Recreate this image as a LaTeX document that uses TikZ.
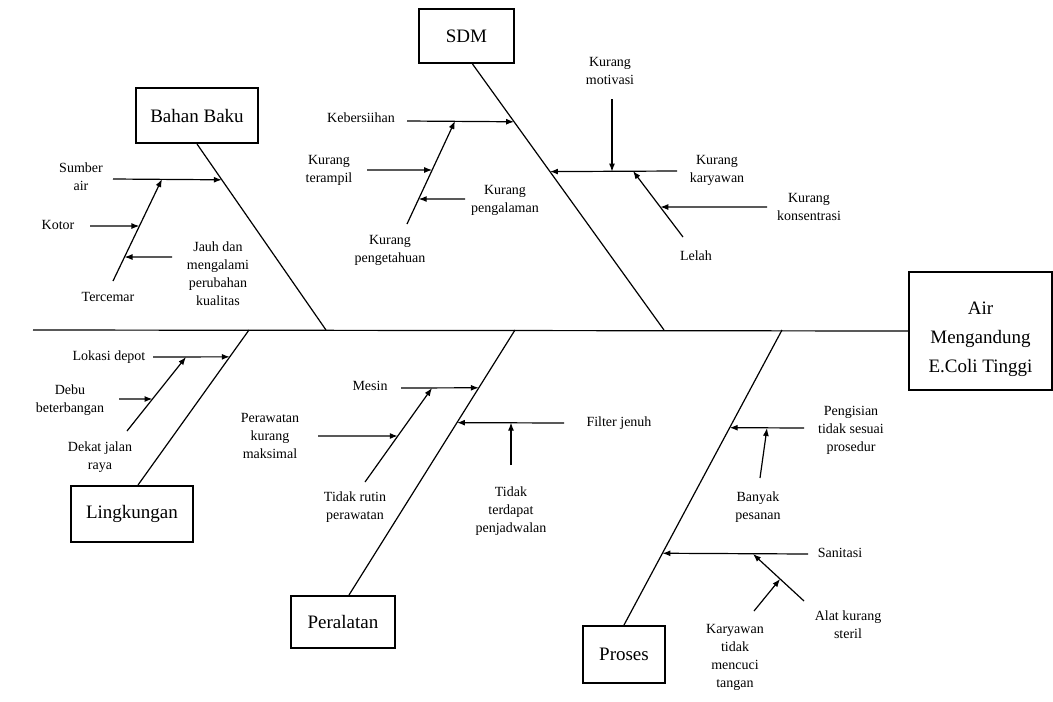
\documentclass[tikz,border=0pt]{standalone}
\usepackage{fontspec}
\setmainfont{Liberation Serif}
\usetikzlibrary{arrows.meta, calc}

\begin{document}
\begin{tikzpicture}[
    x=1pt, y=-1pt,
    every node/.style={font=\fontsize{14}{18}\selectfont},
    bonebox/.style={
        rectangle,
        draw,
        line width=2pt,
        inner sep=0pt,
        align=center,
        font=\fontsize{19}{29}\selectfont
    },
    cause/.style={align=center, inner sep=0pt},
    bone/.style={line width=1.2pt},
    arrow/.style={line width=1.2pt, -{Latex[length=8pt, width=6pt]}}
]
\useasboundingbox (0,0) rectangle (1053,702);

\node[bonebox, minimum width=143pt, minimum height=118pt] (head) at (980.5,331) {\raisebox{-11pt}[0pt][0pt]{\begin{tabular}{@{}c@{}}Air\\Mengandung\\E.Coli Tinggi\end{tabular}}};
\node[bonebox, minimum width=122pt, minimum height=55pt] (bahan) at (197,115.5) {Bahan Baku};
\node[bonebox, minimum width=95pt, minimum height=54pt] (sdm) at (466.5,36) {SDM};
\node[bonebox, minimum width=122pt, minimum height=56pt] (lingk) at (132,514) {Lingkungan};
\node[bonebox, minimum width=104pt, minimum height=52pt] (alat) at (343,622) {Peralatan};
\node[bonebox, minimum width=82pt, minimum height=57pt] (proses) at (624,654.5) {Proses};

\coordinate (tail) at (33,330);
\draw[bone] (tail) -- (head.west);

\coordinate (bahanS) at (326,330);
\coordinate (sdmS) at (664,330);
\coordinate (lingkS) at (249,330);
\coordinate (alatS) at (515,330);
\coordinate (prosesS) at (782,330);
\coordinate (bahanT) at (bahan.south);
\coordinate (sdmT) at ([xshift=6pt]sdm.south);
\coordinate (lingkT) at ([xshift=6pt]lingk.north);
\coordinate (alatT) at ([xshift=6pt]alat.north);
\coordinate (prosesT) at (proses.north);
\foreach \bn in {bahan, sdm, lingk, alat, proses}
    \draw[bone] (\bn T) -- (\bn S);

\node[cause] (sumber) at (81,177) {Sumber\\air};
\node[cause] (kotor) at (58,225) {Kotor};
\node[cause] (tercemar) at (108,297) {Tercemar};
\node[cause] (jauh) at (218,274) {Jauh dan\\mengalami\\perubahan\\kualitas};

\coordinate (bb1) at ($(bahanT)!0.1925!(bahanS)$);
\coordinate (bb1s) at (113,179);
\coordinate (bb2a) at (113,281);
\coordinate (bb2b) at (162,179);
\coordinate (bb3) at ($(bb2a)!0.539!(bb2b)$);
\coordinate (bb3s) at (90,226);
\coordinate (bb4) at ($(bb2a)!0.235!(bb2b)$);
\coordinate (bb4s) at (172,257);
\draw[arrow] (bb1s) -- (bb1);
\draw[arrow] (bb2a) -- (bb2b);
\draw[arrow] (bb3s) -- (bb3);
\draw[arrow] (bb4s) -- (bb4);

\node[cause] (bersih) at (361,118) {Kebersiihan};
\node[cause] (terampil) at (329,170) {Kurang\\terampil};
\node[cause] (pengalaman) at (505,200) {Kurang\\pengalaman};
\node[cause] (pengetahuan) at (390,250) {Kurang\\pengetahuan};
\node[cause] (motivasi) at (610,71) {Kurang\\motivasi};
\node[cause] (karyawan) at (717,170) {Kurang\\karyawan};
\node[cause] (konsentrasi) at (809,207) {Kurang\\konsentrasi};
\node[cause] (lelah) at (696,256) {Lelah};

\coordinate (sd1) at ($(sdmT)!0.2172!(sdmS)$);
\coordinate (sd1s) at (407,121);
\coordinate (sd2a) at (407,224);
\coordinate (sd2b) at (455,121);
\coordinate (sd3) at ($(sd2a)!0.5243!(sd2b)$);
\coordinate (sd3s) at (367,170);
\coordinate (sd4) at ($(sd2a)!0.2427!(sd2b)$);
\coordinate (sd4s) at (465,199);
\coordinate (sd5) at ($(sdmT)!0.4045!(sdmS)$);
\coordinate (sd5s) at (677,171);
\coordinate (sd6s) at (612,99);
\coordinate (sd7a) at (683,237);
\coordinate (sd7b) at (633,171);
\coordinate (sd8) at ($(sd7a)!0.4545!(sd7b)$);
\coordinate (sd8s) at (767,207);
\draw[arrow] (sd1s) -- (sd1);
\draw[arrow] (sd2a) -- (sd2b);
\draw[arrow] (sd3s) -- (sd3);
\draw[arrow] (sd4s) -- (sd4);
\draw[arrow] (sd5s) -- (sd5);
\draw[arrow] (sd6s) -- (sd6s |- sd5);
\draw[arrow] (sd7a) -- (sd7b);
\draw[arrow] (sd8s) -- (sd8);

\node[cause] (lokasi) at (109,357) {Lokasi depot};
\node[cause] (debu) at (70,400) {Debu\\beterbangan};
\node[cause] (jalan) at (100,457) {Dekat jalan\\raya};

\coordinate (lg1) at ($(lingkS)!0.1731!(lingkT)$);
\coordinate (lg1s) at (153,357);
\coordinate (lg2a) at (127,431);
\coordinate (lg2b) at (186,357);
\coordinate (lg3) at ($(lg2a)!0.4324!(lg2b)$);
\coordinate (lg3s) at (119,399);
\draw[arrow] (lg1s) -- (lg1);
\draw[arrow] (lg2a) -- (lg2b);
\draw[arrow] (lg3s) -- (lg3);

\node[cause] (mesin) at (370,386) {Mesin};
\node[cause] (rawat) at (270,436) {Perawatan\\kurang\\maksimal};
\node[cause] (rutin) at (355,507) {Tidak rutin\\perawatan};
\node[cause] (filter) at (619,423) {Filter jenuh};
\node[cause] (jadwal) at (511,511) {Tidak\\terdapat\\penjadwalan};

\coordinate (al1) at ($(alatS)!0.218!(alatT)$);
\coordinate (al1s) at (401,388);
\coordinate (al2a) at (365,482);
\coordinate (al2b) at (432,388);
\coordinate (al3) at ($(al2a)!0.4894!(al2b)$);
\coordinate (al3s) at (318,436);
\coordinate (al4) at ($(alatS)!0.3496!(alatT)$);
\coordinate (al4s) at (564,423);
\coordinate (al5s) at (511,465);
\draw[arrow] (al1s) -- (al1);
\draw[arrow] (al2a) -- (al2b);
\draw[arrow] (al3s) -- (al3);
\draw[arrow] (al4s) -- (al4);
\draw[arrow] (al5s) -- (al5s |- al4);

\node[cause] (isi) at (851,430) {Pengisian\\tidak sesuai\\prosedur};
\node[cause] (pesanan) at (758,507) {Banyak\\pesanan};
\node[cause] (sanitasi) at (840,553) {Sanitasi};
\node[cause] (steril) at (848,625) {Alat kurang\\steril};
\node[cause] (cuci) at (735,657) {Karyawan\\tidak\\mencuci\\tangan};

\coordinate (ps1) at ($(prosesS)!0.3311!(prosesT)$);
\coordinate (ps1s) at (804,428);
\coordinate (ps2a) at (760,478);
\coordinate (ps2b) at (767,428);
\coordinate (ps3) at ($(prosesS)!0.7568!(prosesT)$);
\coordinate (ps3s) at (808,554);
\coordinate (ps4a) at (804,601);
\coordinate (ps4b) at (753,554);
\coordinate (ps5) at ($(ps4a)!0.468!(ps4b)$);
\coordinate (ps5a) at (754,611);
\draw[arrow] (ps1s) -- (ps1);
\draw[arrow] (ps2a) -- (ps2b);
\draw[arrow] (ps3s) -- (ps3);
\draw[arrow] (ps4a) -- (ps4b);
\draw[arrow] (ps5a) -- (ps5);

\end{tikzpicture}
\end{document}
